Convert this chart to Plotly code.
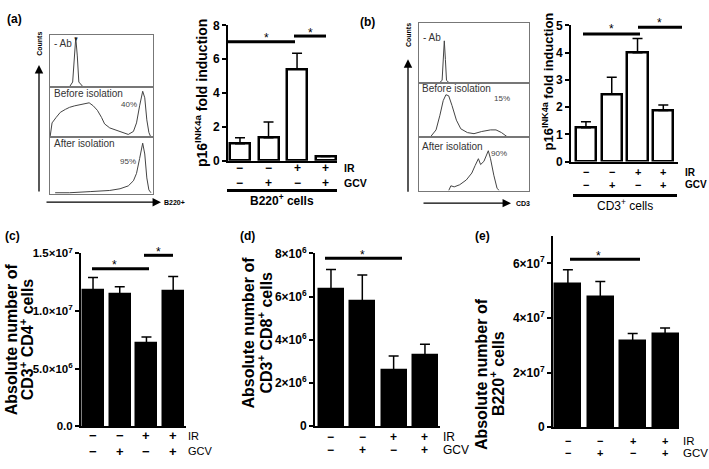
import plotly.graph_objects as go

W, H = 709, 469

# ---- data ----
ir_signs = ["−", "−", "+", "+"]
gcv_signs = ["−", "+", "−", "+"]

# p16INK4a fold induction (a: B220+ cells, b: CD3+ cells)
a_mean = [1.0, 1.35, 5.4, 0.25]
a_sem = [0.35, 0.93, 0.95, 0.0]
b_mean = [1.24, 2.48, 4.0, 1.88]
b_sem = [0.22, 0.62, 0.52, 0.2]

# absolute cell numbers (c: CD3+CD4+, d: CD3+CD8+, e: B220+)
c_mean = [1.175e7, 1.14e7, 7.2e6, 1.167e7]
c_sem = [1.15e6, 0.7e6, 0.55e6, 1.33e6]
d_mean = [6.35e6, 5.8e6, 2.6e6, 3.3e6]
d_sem = [0.9e6, 1.2e6, 0.65e6, 0.5e6]
e_mean = [5.23e7, 4.77e7, 3.14e7, 3.4e7]
e_sem = [0.53e7, 0.56e7, 0.29e7, 0.23e7]

c_tickvals = [0, 5e6, 1e7, 1.5e7]
c_ticktext = ["0.0", "5.0×10<sup>6</sup>", "1.0×10<sup>7</sup>", "1.5×10<sup>7</sup>"]
d_tickvals = [0, 2e6, 4e6, 6e6, 8e6]
d_ticktext = ["0", "2×10<sup>6</sup>", "4×10<sup>6</sup>", "6×10<sup>6</sup>", "8×10<sup>6</sup>"]
e_tickvals = [0, 2e7, 4e7, 6e7]
e_ticktext = ["0", "2×10<sup>7</sup>", "4×10<sup>7</sup>", "6×10<sup>7</sup>"]

# flow histograms, B220 (relative fluorescence, relative counts)
ha_noab_x = [0.0, 0.19, 0.22, 0.235, 0.25, 0.265, 0.28, 0.32, 1.0]
ha_noab_y = [0.0, 0.01, 0.1, 0.6, 0.95, 0.6, 0.1, 0.01, 0.0]
ha_before_x = [0.0, 0.02, 0.06, 0.10, 0.15, 0.19, 0.24, 0.29, 0.34, 0.38, 0.42, 0.46, 0.50,
               0.53, 0.58, 0.64, 0.70, 0.76, 0.81, 0.84, 0.87, 0.89, 0.90, 0.92, 0.94, 0.96, 0.98]
ha_before_y = [0.0, 0.29, 0.40, 0.50, 0.56, 0.60, 0.63, 0.65, 0.67, 0.69, 0.63, 0.54, 0.40,
               0.27, 0.19, 0.15, 0.10, 0.06, 0.12, 0.29, 0.63, 0.87, 0.92, 0.79, 0.35, 0.10, 0.0]
ha_after_x = [0.05, 0.19, 0.39, 0.58, 0.68, 0.76, 0.81, 0.84, 0.87, 0.89, 0.90, 0.92, 0.94, 0.96, 0.98]
ha_after_y = [0.03, 0.03, 0.05, 0.07, 0.10, 0.15, 0.24, 0.37, 0.63, 0.85, 0.90, 0.71, 0.29, 0.08, 0.03]

# flow histograms, CD3
hb_noab_x = [0.0, 0.18, 0.21, 0.22, 0.23, 0.24, 0.25, 0.28, 1.0]
hb_noab_y = [0.0, 0.0, 0.05, 0.4, 0.71, 0.4, 0.05, 0.0, 0.0]
hb_before_x = [0.10, 0.155, 0.19, 0.22, 0.245, 0.27, 0.30, 0.34, 0.38, 0.44, 0.50,
               0.57, 0.65, 0.70, 0.75, 0.81]
hb_before_y = [0.0, 0.14, 0.41, 0.68, 0.79, 0.77, 0.59, 0.32, 0.16, 0.09, 0.07,
               0.11, 0.14, 0.14, 0.09, 0.0]
hb_after_x = [0.27, 0.29, 0.32, 0.37, 0.43, 0.48, 0.51, 0.54, 0.56, 0.59, 0.63, 0.65, 0.68, 0.71, 0.73]
hb_after_y = [0.0, 0.09, 0.07, 0.11, 0.20, 0.33, 0.47, 0.60, 0.49, 0.55, 0.75, 0.60, 0.29, 0.04, 0.0]

FONT = "Liberation Sans, Arial, sans-serif"


def fx(p):
    return p / W


def fy(p):
    return 1 - p / H


fig = go.Figure()
layout = {}

# ---- bar panels ----
# rows = (IR row y, GCV row y, label x, label size, sign size)
bar_panels = [
    dict(n=1, mean=a_mean, sem=a_sem, fill="white", box=(228, 337, 17, 157), xr=[-0.42, 3.40],
         yr=[0, 8], w=0.7, tv=[0, 2, 4, 6, 8], tt=["0", "2", "4", "6", "8"], tf=12,
         rows=(165, 180, 343, 10.5, 12), bold=True),
    dict(n=2, mean=b_mean, sem=b_sem, fill="white", box=(571, 678, 17, 158), xr=[-0.58, 3.57],
         yr=[0, 5], w=0.78, tv=[0, 1, 2, 3, 4, 5], tt=["0", "1", "2", "3", "4", "5"], tf=12,
         rows=(169, 182, 684, 10, 11), bold=True),
    dict(n=3, mean=c_mean, sem=c_sem, fill="black", box=(81, 186, 253, 432), xr=[-0.45, 3.48],
         yr=[0, 1.5e7], w=0.75, tv=c_tickvals, tt=c_ticktext, tf=11.5,
         rows=(442, 458, 187, 11, 13), bold=False),
    dict(n=4, mean=d_mean, sem=d_sem, fill="black", box=(315, 440, 253, 432), xr=[-0.51, 3.48],
         yr=[0, 8e6], w=0.77, tv=d_tickvals, tt=d_ticktext, tf=12,
         rows=(443, 457, 442, 12, 12), bold=False),
    dict(n=5, mean=e_mean, sem=e_sem, fill="black", box=(553, 679, 235, 433), xr=[-0.46, 3.43],
         yr=[0, 7e7], w=0.77, tv=e_tickvals, tt=e_ticktext, tf=12,
         rows=(447, 460, 682, 11.5, 11), bold=False),
]

for p in bar_panels:
    n = p["n"]
    x0, x1, y0, y1 = p["box"]
    layout[f"xaxis{n}"] = dict(domain=[fx(x0), fx(x1)], range=p["xr"], anchor=f"y{n}",
                               showline=True, linecolor="black", linewidth=2, ticks="",
                               showticklabels=False, showgrid=False, zeroline=False)
    layout[f"yaxis{n}"] = dict(domain=[fy(y1), fy(y0)], range=p["yr"], anchor=f"x{n}",
                               showline=True, linecolor="black", linewidth=2, ticks="outside",
                               ticklen=4, tickwidth=1.5, tickcolor="black",
                               tickvals=p["tv"], ticktext=p["tt"],
                               tickfont=dict(size=p["tf"], family=FONT, color="black", weight="bold"),
                               showgrid=False, zeroline=False)
    fig.add_trace(go.Bar(x=[0, 1, 2, 3], y=p["mean"], width=p["w"],
                         marker=dict(color=p["fill"], line=dict(color="black", width=2.5)),
                         error_y=dict(type="data", array=p["sem"], arrayminus=[0, 0, 0, 0],
                                      symmetric=False, color="black", thickness=1.5, width=5),
                         xaxis=f"x{n}", yaxis=f"y{n}"))
    ir_y, gcv_y, lab_x, lab_size, sign_size = p["rows"]
    for i in range(4):
        for sign, ry in ((ir_signs[i], ir_y), (gcv_signs[i], gcv_y)):
            fig.add_annotation(x=i, y=fy(ry), xref=f"x{n}", yref="paper", text=f"<b>{sign}</b>",
                               showarrow=False, yanchor="middle", borderpad=0,
                               font=dict(size=sign_size, family=FONT, color="black"))
    for txt, ry in (("IR", ir_y), ("GCV", gcv_y)):
        t = f"<b>{txt}</b>" if p["bold"] else txt
        fig.add_annotation(x=fx(lab_x), y=fy(ry), xref="paper", yref="paper", text=t, showarrow=False,
                           xanchor="left", yanchor="middle", borderpad=0,
                           font=dict(size=lab_size, family=FONT, color="black"))

# ---- flow histograms ----
hist_panels = [
    dict(start=6, box=(50, 153), rows=[(27, 81), (81, 133), (133, 192)],
         curves=[(ha_noab_x, ha_noab_y), (ha_before_x, ha_before_y), (ha_after_x, ha_after_y)]),
    dict(start=9, box=(419, 529), rows=[(15, 77), (77, 133), (133, 188)],
         curves=[(hb_noab_x, hb_noab_y), (hb_before_x, hb_before_y), (hb_after_x, hb_after_y)]),
]
for hp in hist_panels:
    for k in range(3):
        n = hp["start"] + k
        r0, r1 = hp["rows"][k]
        layout[f"xaxis{n}"] = dict(domain=[fx(hp["box"][0]), fx(hp["box"][1])], range=[0, 1], anchor=f"y{n}",
                                   showline=True, mirror=True, linecolor="#777", linewidth=1,
                                   showticklabels=False, ticks="", showgrid=False, zeroline=False)
        layout[f"yaxis{n}"] = dict(domain=[fy(r1), fy(r0)], range=[0, 1], anchor=f"x{n}",
                                   showline=True, mirror=True, linecolor="#777", linewidth=1,
                                   showticklabels=False, ticks="", showgrid=False, zeroline=False)
        cx, cy = hp["curves"][k]
        fig.add_trace(go.Scatter(x=cx, y=cy, mode="lines", line=dict(color="#444", width=1),
                                 xaxis=f"x{n}", yaxis=f"y{n}", hoverinfo="skip"))

fig.update_layout(**layout)


def text(x, y, s, size=10, color="black", xanchor="center", angle=0):
    fig.add_annotation(x=fx(x), y=fy(y), xref="paper", yref="paper", text=s, showarrow=False,
                       xanchor=xanchor, yanchor="middle", textangle=angle, borderpad=0,
                       font=dict(size=size, family=FONT, color=color))


def hline(x0, x1, y, w=3):
    fig.add_shape(type="line", xref="paper", yref="paper", x0=fx(x0), x1=fx(x1), y0=fy(y), y1=fy(y),
                  line=dict(color="black", width=w))


def arrow(hx, hy, tx, ty):
    fig.add_annotation(x=fx(hx), y=fy(hy), xref="paper", yref="paper", ax=tx - hx, ay=ty - hy,
                       text="", showarrow=True, arrowhead=2, arrowsize=1.3, arrowwidth=1.3,
                       arrowcolor="black")


# panel letters
for lab, x, y in (("(a)", 14, 10), ("(b)", 367, 13), ("(c)", 12, 235), ("(d)", 247, 235), ("(e)", 482, 235)):
    text(x, y, f"<b>{lab}</b>", size=12)

# histogram labels
text(53, 36, "- Ab", 10, "#333", "left")
text(53, 88, "Before isolation", 10, "#333", "left")
text(53, 139, "After isolation", 10, "#333", "left")
text(129, 99, "40%", 8, "#444")
text(128, 158, "95%", 8, "#444")
text(422, 30, "- Ab", 10, "#333", "left")
text(421, 82, "Before isolation", 10, "#333", "left")
text(421, 142, "After isolation", 10, "#333", "left")
text(502, 93, "15%", 8, "#444")
text(499, 150, "90%", 8, "#444")
text(76, 31, "▼", 6, "#222")

arrow(39, 58, 39, 186)
arrow(161, 200, 45, 200)
text(40, 36, "<b>Counts</b>", 7, angle=-90)
text(163, 200, "<b>B220+</b>", 7, xanchor="left")
arrow(408, 52, 408, 186)
arrow(511, 201, 422, 201)
text(408, 27, "<b>Counts</b>", 7, angle=-90)
text(515, 201, "<b>CD3</b>", 7, xanchor="left")

# y-axis titles
text(201, 87, "<b>p16<sup>INK4a</sup> fold induction</b>", 14, angle=-90)
text(548, 75, "<b>p16<sup>INK4a</sup> fold induction</b>", 13, angle=-90)
text(11, 342, "<b>Absolute number of</b>", 16, angle=-90)
text(27, 342, "<b>CD3<sup>+</sup> CD4<sup>+</sup> cells</b>", 16, angle=-90)
text(249, 335, "<b>Absolute number of</b>", 16, angle=-90)
text(265, 335, "<b>CD3<sup>+</sup> CD8<sup>+</sup> cells</b>", 16, angle=-90)
text(481, 378, "<b>Absolute number of</b>", 16, angle=-90)
text(497, 378, "<b>B220<sup>+</sup> cells</b>", 16, angle=-90)

# group underlines
hline(227, 337, 188)
text(282, 198, "<b>B220<sup>+</sup> cells</b>", 12)
hline(573, 677, 193)
text(625, 203, "CD3<sup>+</sup> cells", 12)

# significance bars
for x0, x1, y in ((228, 295, 34), (294, 326, 28), (583, 640, 26), (638, 682, 19),
                  (92, 149, 269), (144, 173, 255), (325, 402, 258), (570, 640, 259)):
    hline(x0, x1, y)
for x, y in ((266, 30), (310, 25), (611, 21), (659, 15), (114, 265), (158, 252), (362, 255), (598, 256)):
    text(x, y, "*", 12)

fig.update_layout(width=W, height=H, margin=dict(l=0, r=0, t=0, b=0), showlegend=False,
                  plot_bgcolor="white", paper_bgcolor="white", bargap=0,
                  font=dict(family=FONT, color="black"))

# drop the browser's default body margin so the figure sits at the page corner
fig.write_html("out.html", config={"displayModeBar": False},
               post_script="document.body.style.margin = '0';")
